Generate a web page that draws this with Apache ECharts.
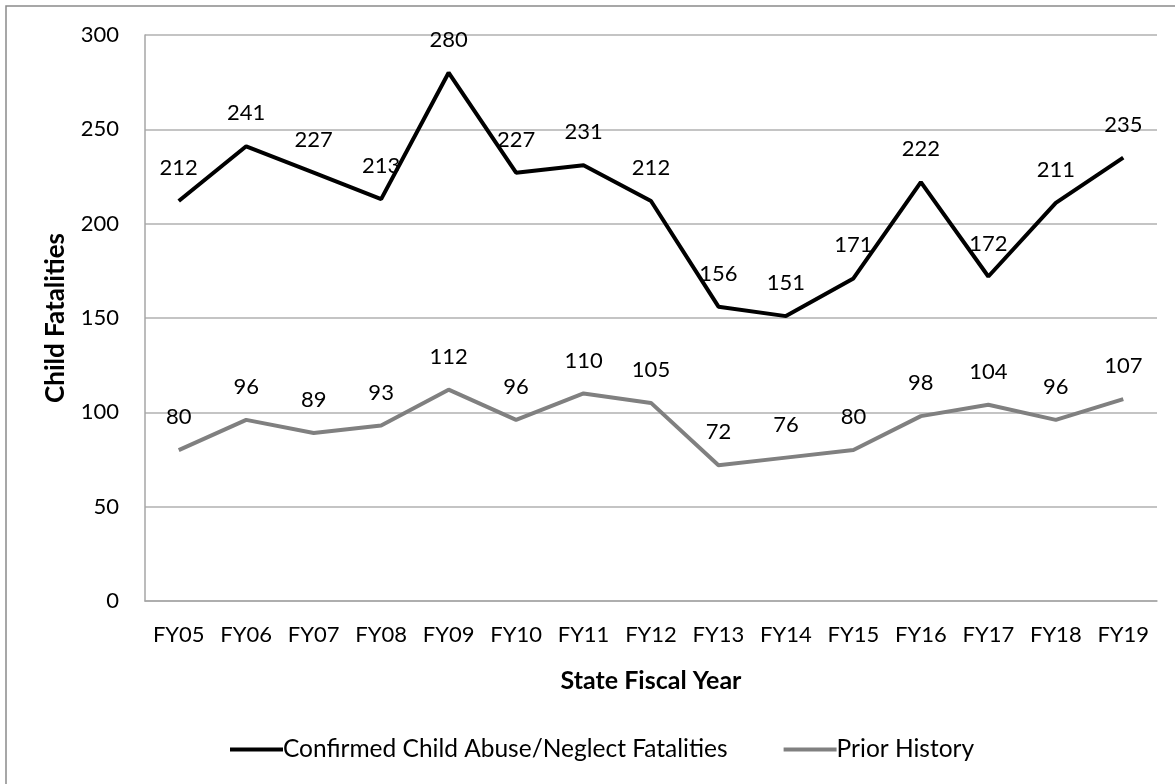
<!DOCTYPE html>
<html>
<head>
<meta charset="utf-8">
<script src="https://cdn.jsdelivr.net/npm/echarts@6/dist/echarts.min.js"></script>
<style>
  html, body { margin: 0; padding: 0; background: #fff; }
  #chart { width: 1175px; height: 784px; }
</style>
</head>
<body>
<div id="chart"></div>
<script>
// fiscal years on the x axis
const years = ['FY05', 'FY06', 'FY07', 'FY08', 'FY09', 'FY10', 'FY11', 'FY12',
               'FY13', 'FY14', 'FY15', 'FY16', 'FY17', 'FY18', 'FY19']
// confirmed child abuse/neglect fatalities
const confirmed = [212, 241, 227, 213, 280, 227, 231, 212, 156, 151, 171, 222, 172, 211, 235]
// of which with prior history
const priorHistory = [80, 96, 89, 93, 112, 96, 110, 105, 72, 76, 80, 98, 104, 96, 107]

const FONT = 'Lato, "Open Sans", sans-serif'

const chart = echarts.init(document.getElementById('chart'), null, { renderer: 'canvas' })

// data label shared by both lines
function pointLabel() {
    return {
        show: true,
        position: 'top',
        distance: 22,
        color: '#000',
        fontSize: 22,
        fontFamily: FONT
    }
}

const option = {
    animation: false,
    backgroundColor: '#fff',
    textStyle: { fontFamily: FONT },
    // outer chart border (only left/top edges visible in the picture)
    graphic: [
        {
            type: 'rect',
            shape: { x: 6, y: 6, width: 1300, height: 900 },
            style: { fill: 'none', stroke: '#8a8a8a', lineWidth: 1.5 },
            silent: true
        }
    ],
    grid: {
        left: 145,
        right: 18,
        top: 35,
        bottom: 183,
        containLabel: false
    },
    legend: {
        bottom: 17,
        left: 225,
        itemWidth: 53,
        itemHeight: 4,
        itemGap: 56,
        icon: 'rect',
        textStyle: { fontSize: 24.5, color: '#000', fontFamily: FONT, padding: [0, 0, 0, -5] },
        data: ['Confirmed Child Abuse/Neglect Fatalities', 'Prior History']
    },
    xAxis: {
        type: 'category',
        data: years,
        boundaryGap: true,
        name: 'State Fiscal Year',
        nameLocation: 'middle',
        nameGap: 67,
        nameTextStyle: { fontSize: 25, fontWeight: 'bold', color: '#000', fontFamily: FONT },
        axisLine: { lineStyle: { color: '#a6a6a6', width: 1.5 } },
        axisTick: { show: false },
        axisLabel: { fontSize: 22, color: '#000', margin: 23, fontFamily: FONT }
    },
    yAxis: {
        type: 'value',
        min: 0,
        max: 300,
        interval: 50,
        name: 'Child Fatalities',
        nameLocation: 'middle',
        nameGap: 76,
        nameTextStyle: { fontSize: 26, fontWeight: 'bold', color: '#000', fontFamily: FONT },
        axisLine: { show: true, lineStyle: { color: '#a6a6a6', width: 1.5 } },
        axisTick: { show: false },
        axisLabel: { fontSize: 22, color: '#000', margin: 26, fontFamily: FONT },
        splitLine: { lineStyle: { color: '#b0b0b0', width: 1.5 } }
    },
    series: [
        {
            name: 'Confirmed Child Abuse/Neglect Fatalities',
            type: 'line',
            data: confirmed,
            symbol: 'circle',
            symbolSize: 0.1,
            showSymbol: true,
            lineStyle: { color: '#000', width: 4 },
            itemStyle: { color: '#000' },
            label: pointLabel()
        },
        {
            name: 'Prior History',
            type: 'line',
            data: priorHistory,
            symbol: 'circle',
            symbolSize: 0.1,
            showSymbol: true,
            lineStyle: { color: '#808080', width: 4 },
            itemStyle: { color: '#808080' },
            label: pointLabel()
        }
    ]
}

chart.setOption(option)
</script>
</body>
</html>
